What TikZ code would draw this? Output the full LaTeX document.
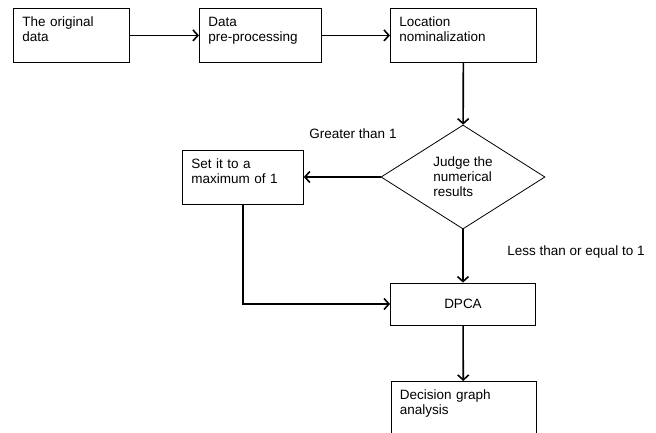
\documentclass[tikz,border=0pt]{standalone}
\usepackage{fontspec}
\setmainfont{Liberation Sans}
\usetikzlibrary{arrows.meta,positioning,shapes.geometric}

\begin{document}
\begin{tikzpicture}[x=1pt,y=-1pt,
  box/.style={draw,line width=0.8pt,anchor=north west,text width=#1,align=left,
              font=\fontsize{13.5}{15}\selectfont,inner xsep=9pt,inner ysep=8pt,
              text height=10pt,text depth=28pt},
  cbox/.style={draw,line width=0.8pt,minimum width=145pt,minimum height=42pt,
              font=\fontsize{13.5}{15}\selectfont},
  judge/.style={draw,diamond,line width=0.8pt,aspect=1.58,minimum width=164pt,
              minimum height=104pt,inner sep=0pt,align=left,
              font=\fontsize{13.5}{15}\selectfont},
  lbl/.style={font=\fontsize{13.5}{15}\selectfont},
  ar/.style={-{Straight Barb[length=5pt,width=11pt]},line width=1.6pt}]
  \useasboundingbox (0,0) rectangle (656,432);
  \node[box=98pt] (orig) at (13,8) {The original\\data};
  \node[box=104pt] (prep) at (199,8) {Data\\pre-processing};
  \node[box=128pt] (nom) at (390,8) {Location\\nominalization};
  \node[judge] (jdg) at (463,177) {Judge the\\numerical\\results};
  \node[box=103pt] (setmax) at (182,150) {Set it to a\\maximum of 1};
  \node[cbox] (dpca) at (463,304) {DPCA};
  \node[box=127pt,text depth=50pt] (dec) at (390.5,381) {Decision graph\\analysis};
  \node[lbl] (gt) at (353,134) {Greater than 1};
  \node[lbl] (le) at (576,252) {Less than or equal to 1};
  \foreach \a/\b in {orig/prep,prep/nom} \draw[ar] (\a) -- (\b);
  \draw[ar] (nom) -- (jdg);
  \draw[ar] (jdg.west) -- (jdg.west -| setmax.east);
  \draw[ar] (setmax.south) |- (dpca.west);
  \draw[ar] (jdg) -- (dpca);
  \draw[ar] (dpca) -- (dec);
\end{tikzpicture}
\end{document}
